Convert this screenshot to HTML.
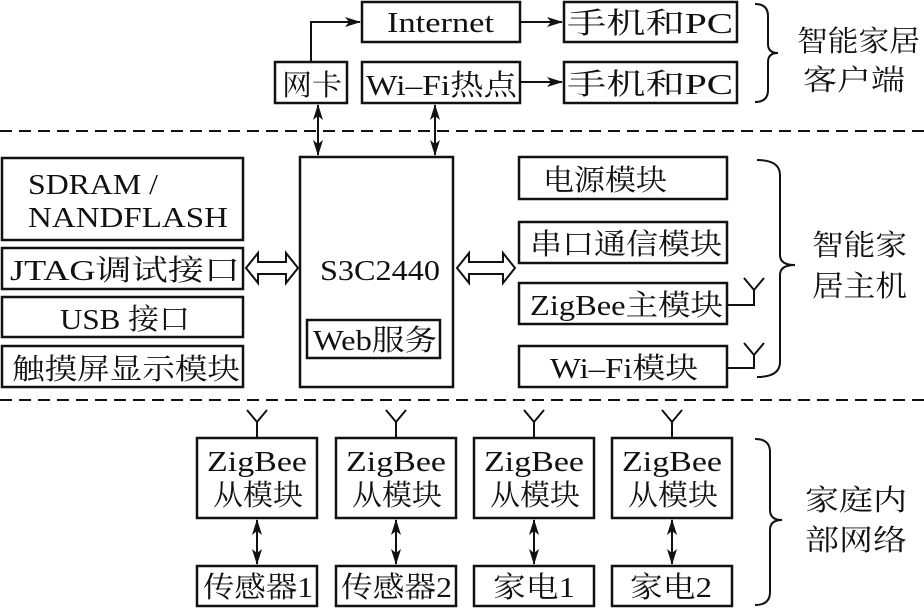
<!DOCTYPE html>
<html><head><meta charset="utf-8"><style>
html,body{margin:0;padding:0;background:#fff;}
svg{display:block}
text{font-family:"Liberation Serif","DejaVu Serif","Noto Serif CJK SC",serif;font-size:29px;fill:#111;}
</style></head><body>
<svg width="924" height="609" viewBox="0 0 924 609" xmlns="http://www.w3.org/2000/svg">
<defs>
<marker id="ah" markerWidth="16" markerHeight="10" refX="15" refY="5" orient="auto" markerUnits="userSpaceOnUse"><path d="M0,0 L16,5 L0,10 L4,5 Z" fill="#111"/></marker>
<marker id="ahs" markerWidth="16" markerHeight="10" refX="1" refY="5" orient="auto" markerUnits="userSpaceOnUse"><path d="M16,0 L0,5 L16,10 L12,5 Z" fill="#111"/></marker>
</defs>
<g fill="none" stroke="#111" stroke-width="2.5">
<rect x="362" y="2" width="158" height="40"/>
<rect x="275" y="62" width="72" height="41"/>
<rect x="362" y="62" width="158" height="41"/>
<rect x="564" y="2" width="173" height="40"/>
<rect x="564" y="62" width="173" height="41"/>
<rect x="2" y="158" width="241" height="82"/>
<rect x="2" y="248" width="241" height="41"/>
<rect x="2" y="297" width="241" height="40"/>
<rect x="2" y="346" width="241" height="41"/>
<rect x="300" y="157" width="153" height="230"/>
<rect x="307" y="320" width="133" height="38"/>
<rect x="519" y="157" width="208" height="42"/>
<rect x="519" y="222" width="208" height="41"/>
<rect x="519" y="283" width="208" height="41"/>
<rect x="519" y="346" width="208" height="41"/>
<rect x="197" y="438" width="120" height="80"/>
<rect x="336" y="438" width="120" height="80"/>
<rect x="474" y="438" width="120" height="80"/>
<rect x="612" y="438" width="120" height="80"/>
<rect x="197" y="566" width="120" height="40"/>
<rect x="336" y="566" width="120" height="40"/>
<rect x="474" y="566" width="120" height="40"/>
<rect x="612" y="566" width="120" height="40"/>
</g>
<g fill="none" stroke="#111" stroke-width="2">
<line x1="0" y1="131" x2="924" y2="131" stroke-dasharray="12,7"/>
<line x1="0" y1="400" x2="924" y2="400" stroke-dasharray="12,7"/>
<path d="M311,62 V22 H360" marker-end="url(#ah)"/>
<line x1="520" y1="22" x2="562" y2="22" marker-end="url(#ah)"/>
<line x1="520" y1="82" x2="562" y2="82" marker-end="url(#ah)"/>
<line x1="318" y1="105" x2="318" y2="155" marker-end="url(#ah)" marker-start="url(#ahs)"/>
<line x1="435" y1="105" x2="435" y2="155" marker-end="url(#ah)" marker-start="url(#ahs)"/>
<path d="M246,268 L258,253 V262 H286 V253 L298,268 L286,283 V274 H258 V283 Z"/>
<path d="M457,268 L469,253 V262 H503 V253 L515,268 L503,283 V274 H469 V283 Z"/>
<path d="M727,305 H754 V290 M744,278 L754,290 L764,278"/>
<path d="M727,368 H754 V355 M744,343 L754,355 L764,343"/>
<path d="M257,438 V422 M247,410 L257,422 L267,410"/>
<path d="M396,438 V422 M386,410 L396,422 L406,410"/>
<path d="M534,438 V422 M524,410 L534,422 L544,410"/>
<path d="M672,438 V422 M662,410 L672,422 L682,410"/>
<line x1="257" y1="520" x2="257" y2="564" marker-end="url(#ah)" marker-start="url(#ahs)"/>
<line x1="396" y1="520" x2="396" y2="564" marker-end="url(#ah)" marker-start="url(#ahs)"/>
<line x1="534" y1="520" x2="534" y2="564" marker-end="url(#ah)" marker-start="url(#ahs)"/>
<line x1="672" y1="520" x2="672" y2="564" marker-end="url(#ah)" marker-start="url(#ahs)"/>
<path d="M755,4 Q768,4 768,16 V44 Q768,53 778,53 Q768,53 768,62 V90 Q768,102 755,102"/>
<path d="M757,160 Q780,160 780,175 V255 Q780,265 795,265 Q780,265 780,275 V362 Q780,377 757,377"/>
<path d="M755,439 Q770,439 770,452 V510 Q770,520 782,520 Q770,520 770,530 V592 Q770,605 755,605"/>
</g>
<g lengthAdjust="spacingAndGlyphs">
<text x="387" y="32" textLength="107" lengthAdjust="spacingAndGlyphs">Internet</text>
<text x="282" y="95" textLength="60" lengthAdjust="spacingAndGlyphs">网卡</text>
<text x="366" y="95" textLength="151" lengthAdjust="spacingAndGlyphs">Wi–Fi热点</text>
<text x="567" y="33" textLength="166" lengthAdjust="spacingAndGlyphs">手机和PC</text>
<text x="567" y="94" textLength="166" lengthAdjust="spacingAndGlyphs">手机和PC</text>
<text x="797" y="51" textLength="123" lengthAdjust="spacingAndGlyphs">智能家居</text>
<text x="803" y="90" textLength="102" lengthAdjust="spacingAndGlyphs">客户端</text>
<text x="28" y="194" textLength="130" lengthAdjust="spacingAndGlyphs">SDRAM /</text>
<text x="28" y="227" textLength="200" lengthAdjust="spacingAndGlyphs">NANDFLASH</text>
<text x="10" y="280" textLength="230" lengthAdjust="spacingAndGlyphs">JTAG调试接口</text>
<text x="60" y="329" textLength="130" lengthAdjust="spacingAndGlyphs">USB 接口</text>
<text x="12" y="379" textLength="228" lengthAdjust="spacingAndGlyphs">触摸屏显示模块</text>
<text x="320" y="280" textLength="120" lengthAdjust="spacingAndGlyphs">S3C2440</text>
<text x="313" y="350" textLength="124" lengthAdjust="spacingAndGlyphs">Web服务</text>
<text x="543" y="190" textLength="124" lengthAdjust="spacingAndGlyphs">电源模块</text>
<text x="530" y="254" textLength="192" lengthAdjust="spacingAndGlyphs">串口通信模块</text>
<text x="530" y="315" textLength="193" lengthAdjust="spacingAndGlyphs">ZigBee主模块</text>
<text x="550" y="378" textLength="148" lengthAdjust="spacingAndGlyphs">Wi–Fi模块</text>
<text x="812" y="255" textLength="95" lengthAdjust="spacingAndGlyphs">智能家</text>
<text x="812" y="296" textLength="95" lengthAdjust="spacingAndGlyphs">居主机</text>
<text x="207" y="471" textLength="100" lengthAdjust="spacingAndGlyphs">ZigBee</text><text x="213" y="505" textLength="90" lengthAdjust="spacingAndGlyphs">从模块</text>
<text x="346" y="471" textLength="100" lengthAdjust="spacingAndGlyphs">ZigBee</text><text x="352" y="505" textLength="90" lengthAdjust="spacingAndGlyphs">从模块</text>
<text x="484" y="471" textLength="100" lengthAdjust="spacingAndGlyphs">ZigBee</text><text x="490" y="505" textLength="90" lengthAdjust="spacingAndGlyphs">从模块</text>
<text x="622" y="471" textLength="100" lengthAdjust="spacingAndGlyphs">ZigBee</text><text x="628" y="505" textLength="90" lengthAdjust="spacingAndGlyphs">从模块</text>
<text x="203" y="597" textLength="110" lengthAdjust="spacingAndGlyphs">传感器1</text>
<text x="341" y="597" textLength="111" lengthAdjust="spacingAndGlyphs">传感器2</text>
<text x="493" y="597" textLength="82" lengthAdjust="spacingAndGlyphs">家电1</text>
<text x="630" y="597" textLength="82" lengthAdjust="spacingAndGlyphs">家电2</text>
<text x="805" y="510" textLength="102" lengthAdjust="spacingAndGlyphs">家庭内</text>
<text x="805" y="550" textLength="102" lengthAdjust="spacingAndGlyphs">部网络</text>
</g>
</svg>
</body></html>
